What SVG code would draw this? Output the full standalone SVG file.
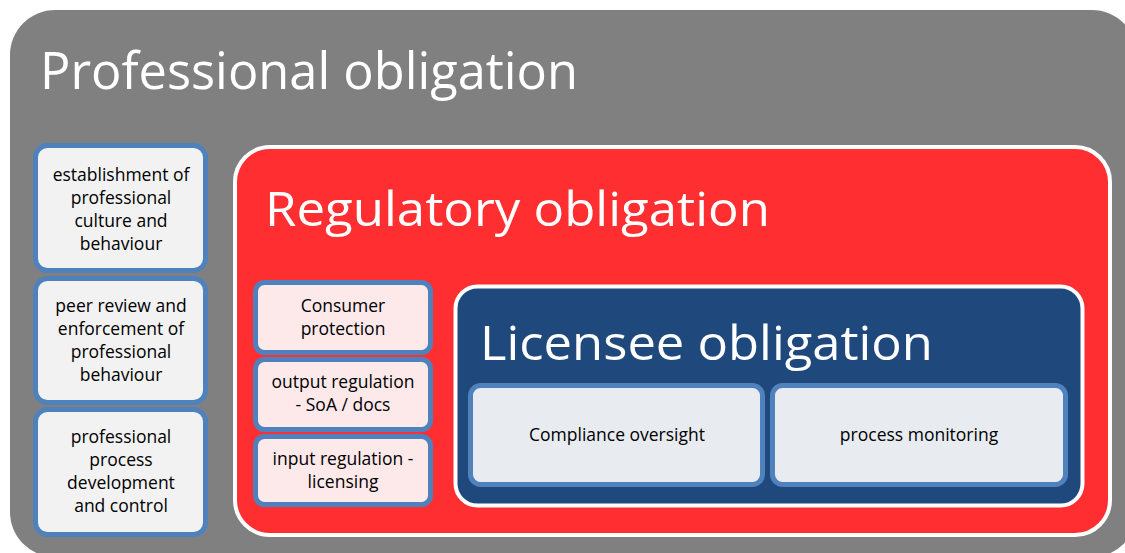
<svg xmlns="http://www.w3.org/2000/svg" width="1125" height="553" viewBox="0 0 1125 553">
<style>
.t{font-family:"Open Sans","Liberation Sans",sans-serif;fill:#000;text-anchor:middle;font-size:17.5px}
.big{font-family:"Open Sans","Liberation Sans",sans-serif;fill:#fff}
.lb{fill:#F2F2F2;stroke:#4F81BD;stroke-width:5}
.rb{fill:#FDE9EA;stroke:#4F81BD;stroke-width:5}
.nb{fill:#E8EBF0;stroke:#4F81BD;stroke-width:5}
</style>
<rect width="1125" height="553" fill="#fff"/>
<g id="professional">
<rect x="10" y="10" width="1127" height="547" rx="45" fill="#808080"/>
<text class="big" x="40" y="89" font-size="52" textLength="538" lengthAdjust="spacingAndGlyphs">Professional obligation</text>
</g>
<g id="left1">
<rect class="lb" x="35.500" y="145.500" width="170" height="125" rx="12"/>
<text class="t" x="121" y="181">establishment of</text>
<text class="t" x="121" y="204">professional</text>
<text class="t" x="121" y="227">culture and</text>
<text class="t" x="121" y="250">behaviour</text>
</g>
<g id="left2">
<rect class="lb" x="35.500" y="278.500" width="170" height="124" rx="12"/>
<text class="t" x="121" y="312">peer review and</text>
<text class="t" x="121" y="335">enforcement of</text>
<text class="t" x="121" y="358">professional</text>
<text class="t" x="121" y="381">behaviour</text>
</g>
<g id="left3">
<rect class="lb" x="35.500" y="409.500" width="170" height="125" rx="12"/>
<text class="t" x="121" y="443">professional</text>
<text class="t" x="121" y="466">process</text>
<text class="t" x="121" y="489">development</text>
<text class="t" x="121" y="512">and control</text>
</g>
<g id="regulatory">
<rect x="235" y="147" width="875" height="388" rx="35" fill="#FF2F31" stroke="#fff" stroke-width="4"/>
<text class="big" x="265" y="226" font-size="47" textLength="505" lengthAdjust="spacingAndGlyphs">Regulatory obligation</text>
</g>
<g id="reg1">
<rect class="rb" x="255.500" y="282.500" width="175" height="70" rx="9"/>
<text class="t" x="343" y="312">Consumer</text>
<text class="t" x="343" y="335">protection</text>
</g>
<g id="reg2">
<rect class="rb" x="255.500" y="359.500" width="175" height="70" rx="9"/>
<text class="t" x="343" y="388">output regulation</text>
<text class="t" x="343" y="411">- SoA / docs</text>
</g>
<g id="reg3">
<rect class="rb" x="255.500" y="436.500" width="175" height="68" rx="9"/>
<text class="t" x="343" y="465">input regulation -</text>
<text class="t" x="343" y="488">licensing</text>
</g>
<g id="licensee">
<rect x="455.500" y="286.500" width="627" height="219" rx="22" fill="#1F497D" stroke="#fff" stroke-width="4"/>
<text class="big" x="480" y="360" font-size="47" textLength="453" lengthAdjust="spacingAndGlyphs">Licensee obligation</text>
</g>
<g id="compliance">
<rect class="nb" x="470.500" y="385.500" width="292" height="99" rx="10"/>
<text class="t" x="617" y="441">Compliance oversight</text>
</g>
<g id="monitoring">
<rect class="nb" x="772.500" y="385.500" width="293" height="99" rx="10"/>
<text class="t" x="919" y="441">process monitoring</text>
</g>
<g id="connectors"></g>
</svg>
